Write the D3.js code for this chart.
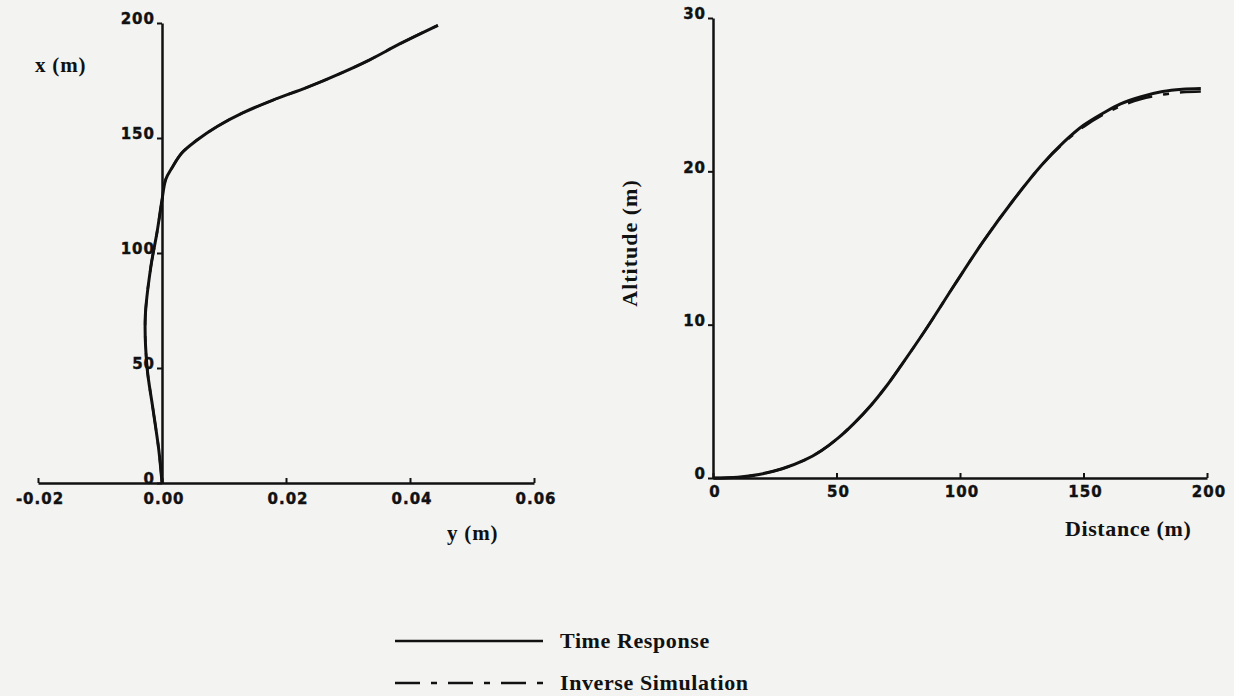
<!DOCTYPE html>
<html>
<head>
<meta charset="utf-8">
<script src="https://cdn.jsdelivr.net/npm/d3@7/dist/d3.min.js"></script>
<style>
  html, body { margin: 0; padding: 0; background: #f3f3f2; }
  svg { display: block; }
  .tick text { font-family: "DejaVu Sans", sans-serif; font-weight: bold; font-size: 15px; letter-spacing: 1px; fill: #111; stroke: #111; stroke-width: 0.4px; }
  .title { font-family: "Liberation Serif", "Times New Roman", serif; font-weight: bold; fill: #111; }
</style>
</head>
<body>
<script>
// ---- Left panel: ground track, y (m) horizontal vs x (m) vertical ----
const trackTicksY = [-0.02, 0.00, 0.02, 0.04, 0.06];
const trackTickLabelsY = ["-0.02", "0.00", "0.02", "0.04", "0.06"];
const trackTicksX = [0, 50, 100, 150, 200];
const trackTickLabelsX = ["0", "50", "100", "150", "200"];
// time response: lateral y (m) and longitudinal x (m)
const trackTimeY = [0, -0.0005, -0.0015, -0.0024, -0.0027, -0.0018, -0.0008, 0.0000, 0.0006, 0.0016, 0.0032, 0.0056, 0.0089, 0.0131, 0.0179, 0.0234, 0.0287, 0.0335, 0.0384, 0.0445];
const trackTimeX = [0, 14, 33, 50, 72, 94, 109, 123, 132, 137, 143.5, 149, 155, 161, 166.5, 172, 178, 184, 191, 199];
// inverse simulation
const trackInvY = [0, -0.0005, -0.0015, -0.0024, -0.0027, -0.0018, -0.0008, 0.0000, 0.0006, 0.0016, 0.0032, 0.0056, 0.0089, 0.0131, 0.0179, 0.0234, 0.0287, 0.0335, 0.0384, 0.0445];
const trackInvX = [0, 14, 33, 50, 72, 94, 109, 123, 132, 137, 143.5, 149, 155, 161, 166.5, 172, 178, 184, 191, 199];

// ---- Right panel: altitude vs distance ----
const distTicks = [0, 50, 100, 150, 200];
const distTickLabels = ["0", "50", "100", "150", "200"];
const altTicks = [0, 10, 20, 30];
const altTickLabels = ["0", "10", "20", "30"];
const profDistance = [0, 10, 18.6, 28, 37, 44, 50.6, 57, 64, 70, 76, 86, 98, 109.7, 121.5, 133, 142, 150, 158, 165, 173, 182, 190, 197.5];
const profTimeAlt = [0, 0.05, 0.23, 0.6, 1.16, 1.8, 2.6, 3.55, 4.75, 5.95, 7.3, 9.65, 12.65, 15.5, 18.1, 20.4, 21.9, 23.0, 23.8, 24.4, 24.85, 25.2, 25.35, 25.4];
const profInvAlt = [0, 0.05, 0.23, 0.6, 1.16, 1.8, 2.6, 3.55, 4.75, 5.95, 7.3, 9.65, 12.65, 15.5, 18.1, 20.4, 21.85, 22.9, 23.7, 24.25, 24.7, 25.0, 25.15, 25.2];

const legendLabels = ["Time Response", "Inverse Simulation"];

const W = 1234, H = 696;
const svg = d3.select("body").append("svg").attr("width", W).attr("height", H);
svg.append("rect").attr("width", W).attr("height", H).attr("fill", "#f3f3f2");

const ink = "#111";
const dashPattern = "25,11,6,11";

function styleAxis(g) {
  g.select(".domain").attr("stroke", ink).attr("stroke-width", 2.5);
  g.selectAll(".tick line").attr("stroke", ink).attr("stroke-width", 2);
}

// ----- Left panel -----
const lx = d3.scaleLinear().domain([-0.02, 0.06]).range([38, 534]);
const ly = d3.scaleLinear().domain([0, 200]).range([483, 23]);

const lAxB = svg.append("g").attr("transform", `translate(0,${ly(0)})`)
  .call(d3.axisBottom(lx).tickValues(trackTicksY).tickFormat((d, i) => trackTickLabelsY[i]).tickSizeInner(-5).tickSizeOuter(0).tickPadding(10));
styleAxis(lAxB);
lAxB.selectAll(".tick text").attr("dx", "0.1em");

const lAxL = svg.append("g").attr("transform", `translate(${lx(0)},0)`)
  .call(d3.axisLeft(ly).tickValues(trackTicksX).tickFormat((d, i) => trackTickLabelsX[i]).tickSizeInner(5).tickSizeOuter(0).tickPadding(2));
styleAxis(lAxL);
lAxL.selectAll(".tick text").attr("dy", "0.05em");

const lineTrack = (ys, xs) => d3.line().curve(d3.curveCatmullRom)
  .x((d, i) => lx(ys[i])).y((d, i) => ly(xs[i]))(xs);

svg.append("path").attr("d", lineTrack(trackTimeY, trackTimeX))
  .attr("fill", "none").attr("stroke", ink).attr("stroke-width", 3);
svg.append("path").attr("d", lineTrack(trackInvY, trackInvX))
  .attr("fill", "none").attr("stroke", ink).attr("stroke-width", 2.5).attr("stroke-dasharray", dashPattern);

svg.append("text").attr("class", "title").attr("x", 35).attr("y", 72)
  .attr("font-size", 21).attr("letter-spacing", "0.8px").text("x (m)");
svg.append("text").attr("class", "title").attr("x", 447).attr("y", 540)
  .attr("font-size", 21).attr("letter-spacing", "0.8px").text("y (m)");

// ----- Right panel -----
const rx = d3.scaleLinear().domain([0, 200]).range([713, 1207]);
const ry = d3.scaleLinear().domain([0, 30]).range([478, 18]);

const rAxB = svg.append("g").attr("transform", `translate(0,${ry(0)})`)
  .call(d3.axisBottom(rx).tickValues(distTicks).tickFormat((d, i) => distTickLabels[i]).tickSizeInner(-5).tickSizeOuter(0).tickPadding(8));
styleAxis(rAxB);
rAxB.selectAll(".tick text").attr("dx", "0.1em");

const rAxL = svg.append("g").attr("transform", `translate(${rx(0)},0)`)
  .call(d3.axisLeft(ry).tickValues(altTicks).tickFormat((d, i) => altTickLabels[i]).tickSizeInner(5).tickSizeOuter(0).tickPadding(2));
styleAxis(rAxL);
rAxL.selectAll(".tick text").attr("dy", "0.05em");

const lineProf = (alts) => d3.line().curve(d3.curveCatmullRom)
  .x((d, i) => rx(profDistance[i])).y((d, i) => ry(alts[i]))(alts);

svg.append("path").attr("d", lineProf(profTimeAlt))
  .attr("fill", "none").attr("stroke", ink).attr("stroke-width", 3);
svg.append("path").attr("d", lineProf(profInvAlt))
  .attr("fill", "none").attr("stroke", ink).attr("stroke-width", 2.5).attr("stroke-dasharray", dashPattern);

svg.append("text").attr("class", "title")
  .attr("transform", "translate(637,243) rotate(-90)").attr("text-anchor", "middle")
  .attr("font-size", 22).attr("letter-spacing", "1px").text("Altitude (m)");
svg.append("text").attr("class", "title").attr("x", 1065).attr("y", 536)
  .attr("font-size", 22).attr("letter-spacing", "0.6px").text("Distance (m)");

// ----- Legend -----
const legend = svg.append("g");
const legY = [641, 683];
legendLabels.forEach((lab, i) => {
  legend.append("line").attr("x1", 395).attr("x2", 543).attr("y1", legY[i]).attr("y2", legY[i])
    .attr("stroke", ink).attr("stroke-width", 2.5)
    .attr("stroke-dasharray", i === 1 ? dashPattern : null);
  legend.append("text").attr("class", "title").attr("x", 560).attr("y", legY[i] + 7)
    .attr("font-size", 22).attr("letter-spacing", "0.6px").text(lab);
});
</script>
</body>
</html>
